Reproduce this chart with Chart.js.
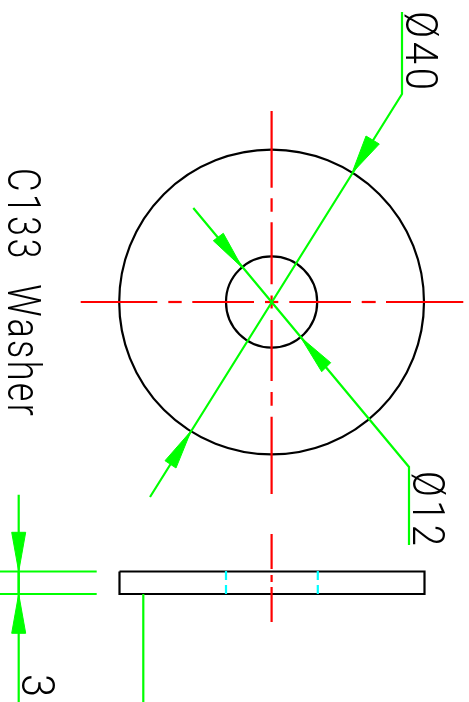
<!DOCTYPE html>
<html><head><meta charset="utf-8">
<style>html,body{margin:0;padding:0;background:#fff;overflow:hidden}canvas{display:block}</style>
<script src="https://cdn.jsdelivr.net/npm/chart.js@4/dist/chart.umd.js"></script>
</head><body><canvas id="c" width="469" height="702"></canvas>
<script>
const center = {x: 271.6, y: 302};
const outerRadius = 152.4;
const holeRadius = 45.6;
const redHorizontalDashes = [[80.7,157.3],[168.3,181.7],[192.3,254],[265,278.3],[289.3,351],[361.7,375.7],[386,463.3]];
const redVerticalDashes = [[111,187.7],[198.3,211.7],[222.3,284.3],[295.5,308.5],[320,381],[392,405.7],[416.7,494]];
const redSideDashes = [[534,569],[575,582],[587,622]];
const cyanLeftDashes = [[571,580],[585,594]];
const cyanRightDashes = [[571,580],[585,594]];
const cyanColumns = [226, 317.8];
const sideView = [[119.5,571.5],[424.5,571.5],[424.5,594],[119.5,594],[119.5,571.5]];
const leader40 = [[402,12],[402,94],[150,497]];
const leader12 = [[409,545],[409,467],[193.3,208]];
const dim3Top = [[18.7,494.7],[18.7,594]];
const dim3Bottom = [[18.7,571.5],[18.7,702]];
const extTop = [[0,571.5],[96.7,571.5]];
const extBottom = [[0,594],[96.7,594]];
const extSide = [[143.3,594],[143.3,702]];
const arrowHeads = [
  [[352,173],[366,136],[379.3,144]],
  [[191,431],[165,460.7],[176,468]],
  [[242.3,267.7],[213.3,240.7],[223.3,233.3]],
  [[300.7,337.3],[330.7,362.7],[321.7,371.7]],
  [[18.7,571.5],[11.7,532.3],[25.7,532.3]],
  [[18.7,594],[11.7,633.3],[25.7,633.3]]
];
const labels = ["C133 Washer","Ø40","Ø12","3"];
const labelBaseX = [8,406,413,22];
const labelStartY = [168,11,471,674];
const labelEndY = [416,90,546,697];
const labelCap = [33,32,32,33];
const labelWeight = [300,300,300,300];
const labelLetterGap = [3,4,4,0];
const labelWordGap = [16,0,0,0];

const RED="#ff0000",GREEN="#00ff00",CYAN="#00ffff",BLACK="#000000";
const pts = a => a.map(p => ({x:p[0],y:p[1]}));
const line = (a,color,order) => ({type:'line',data:pts(a),borderColor:color,borderWidth:2.2,pointRadius:0,fill:false,tension:0,order,borderCapStyle:'butt',borderJoinStyle:'miter'});
const datasets = [];
datasets.push({type:'scatter',data:[center],pointRadius:outerRadius,pointHoverRadius:outerRadius,pointBackgroundColor:'rgba(0,0,0,0)',pointBorderColor:BLACK,pointBorderWidth:2.2,order:5});
datasets.push({type:'scatter',data:[center],pointRadius:holeRadius,pointHoverRadius:holeRadius,pointBackgroundColor:'rgba(0,0,0,0)',pointBorderColor:BLACK,pointBorderWidth:2.2,order:5});
datasets.push(line(sideView,BLACK,5));
redHorizontalDashes.forEach(d=>datasets.push(line([[d[0],center.y],[d[1],center.y]],RED,3)));
redVerticalDashes.forEach(d=>datasets.push(line([[center.x,d[0]],[center.x,d[1]]],RED,3)));
redSideDashes.forEach(d=>datasets.push(line([[center.x,d[0]],[center.x,d[1]]],RED,3)));
cyanLeftDashes.forEach(d=>datasets.push(line([[cyanColumns[0],d[0]],[cyanColumns[0],d[1]]],CYAN,3)));
cyanRightDashes.forEach(d=>datasets.push(line([[cyanColumns[1],d[0]],[cyanColumns[1],d[1]]],CYAN,3)));
[leader40,leader12,dim3Top,dim3Bottom,extTop,extBottom,extSide].forEach(a=>datasets.push(line(a,GREEN,1)));
arrowHeads.forEach(h=>{
  const closed=h.concat([h[0]]);
  datasets.push(Object.assign(line(closed,GREEN,1),{fill:'shape',backgroundColor:GREEN,borderWidth:1}));
});

const rotatedText = {
  id:'rotatedText',
  afterDatasetsDraw(chart){
    const {ctx,scales:{x,y}} = chart;
    labels.forEach((t,i)=>{
      const size = labelCap[i]/0.711;
      ctx.save();
      ctx.font = `${labelWeight[i]} ${size}px Roboto`;
      ctx.fillStyle = BLACK;
      ctx.textAlign='left';
      ctx.textBaseline='alphabetic';
      ctx.letterSpacing = labelLetterGap[i]+'px';
      ctx.wordSpacing = labelWordGap[i]+'px';
      const px=x.getPixelForValue(labelBaseX[i]);
      const y0=y.getPixelForValue(labelStartY[i]);
      const y1=y.getPixelForValue(labelEndY[i]);
      const natural=ctx.measureText(t).width - labelLetterGap[i];
      ctx.translate(px,y0);
      ctx.rotate(Math.PI/2);
      ctx.scale((y1-y0)/natural,1);
      ctx.fillText(t,0,0);
      ctx.restore();
    });
  }
};

new Chart(document.getElementById('c'),{
  type:'scatter',
  data:{datasets},
  options:{
    responsive:false,animation:false,events:[],
    layout:{padding:0,autoPadding:false},
    plugins:{legend:{display:false},tooltip:{enabled:false},title:{display:false}},
    scales:{
      x:{type:'linear',min:0,max:469,display:false},
      y:{type:'linear',min:0,max:702,reverse:true,display:false}
    }
  },
  plugins:[rotatedText]
});
</script></body></html>
